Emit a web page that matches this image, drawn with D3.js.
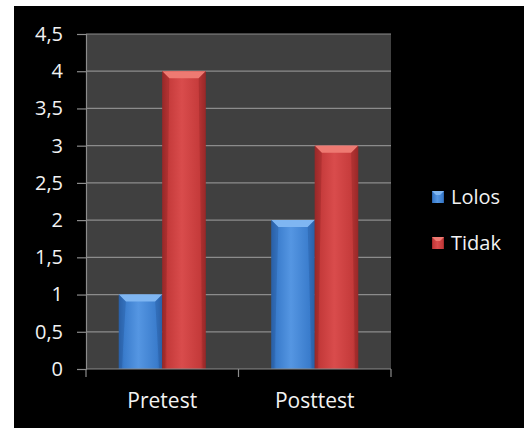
<!DOCTYPE html>
<html>
<head>
<meta charset="utf-8">
<script src="https://cdn.jsdelivr.net/npm/d3@7"></script>
<style>
    html, body { margin: 0; padding: 0; background: #fff; }
    svg { display: block; }
</style>
</head>
<body>
<svg id="chart" width="524" height="428"></svg>
<script>
// chart data
var categories = ["Pretest", "Posttest"];
var seriesNames = ["Lolos", "Tidak"];
var lolosValues = [1, 2];
var tidakValues = [4, 3];
var yTicks = [0, 0.5, 1, 1.5, 2, 2.5, 3, 3.5, 4, 4.5];

var colors = {
    Lolos: { base: "#3a7ccc", light: "#5596e2", dark: "#2a5fa6", top: "#7fb6f2" },
    Tidak: { base: "#c43a3a", light: "#d94c4c", dark: "#982828", top: "#ee7a72" }
};

var svg = d3.select("#chart"),
    plot = { left: 86, right: 391, top: 34, bottom: 369 },
    font = "'Open Sans', Lato, sans-serif";

// outer black frame
svg.append("rect")
    .attr("x", 14).attr("y", 6)
    .attr("width", 510).attr("height", 422)
    .attr("fill", "#000");

var x = d3.scaleBand()
    .domain(categories)
    .range([plot.left, plot.right])
    .paddingInner(0.43)
    .paddingOuter(0.215);

var xSeries = d3.scaleBand()
    .domain(seriesNames)
    .range([0, x.bandwidth()]);

var y = d3.scaleLinear()
    .domain([0, 4.5])
    .range([plot.bottom, plot.top]);

// gradients
var defs = svg.append("defs");
seriesNames.forEach(function (name) {
    var c = colors[name],
        g = defs.append("linearGradient")
            .attr("id", "grad-" + name)
            .attr("x1", "0").attr("x2", "1").attr("y1", "0").attr("y2", "0");
    g.append("stop").attr("offset", "0%").attr("stop-color", c.dark);
    g.append("stop").attr("offset", "12%").attr("stop-color", c.base);
    g.append("stop").attr("offset", "45%").attr("stop-color", c.light);
    g.append("stop").attr("offset", "88%").attr("stop-color", c.base);
    g.append("stop").attr("offset", "100%").attr("stop-color", c.dark);
});

// plot background
svg.append("rect")
    .attr("x", plot.left).attr("y", plot.top)
    .attr("width", plot.right - plot.left)
    .attr("height", plot.bottom - plot.top)
    .attr("fill", "#404040");

// gridlines
svg.append("g")
    .selectAll("line")
    .data(yTicks.slice(1))
    .join("line")
    .attr("x1", plot.left).attr("x2", plot.right)
    .attr("y1", function (d) { return y(d); })
    .attr("y2", function (d) { return y(d); })
    .attr("stroke", "#8c8c8c")
    .attr("stroke-width", 1.2);

// y axis
var yAxis = svg.append("g")
    .attr("transform", "translate(" + plot.left + ",0)")
    .call(d3.axisLeft(y).tickValues(yTicks).tickSize(9).tickPadding(14)
        .tickFormat(function (d) { return String(d).replace(".", ","); }));
yAxis.select(".domain").attr("stroke", "#8c8c8c").attr("stroke-width", 1.2);
yAxis.selectAll(".tick line").attr("stroke", "#8c8c8c").attr("stroke-width", 1.2);
yAxis.selectAll("text")
    .attr("fill", "#f2f2f2")
    .style("font-family", font)
    .style("font-size", "20px");

// bars
var series = [
    { name: "Lolos", values: lolosValues },
    { name: "Tidak", values: tidakValues }
];

series.forEach(function (s) {
    var c = colors[s.name],
        g = svg.append("g");
    categories.forEach(function (cat, i) {
        var bx = x(cat) + xSeries(s.name),
            bw = xSeries.bandwidth(),
            by = y(s.values[i]),
            bh = plot.bottom - by,
            bev = 7;
        g.append("rect")
            .attr("x", bx).attr("y", by)
            .attr("width", bw).attr("height", bh)
            .attr("fill", "url(#grad-" + s.name + ")");
        // top bevel
        g.append("path")
            .attr("d", "M" + bx + "," + by +
                "L" + (bx + bw) + "," + by +
                "L" + (bx + bw - bev) + "," + (by + bev) +
                "L" + (bx + bev) + "," + (by + bev) + "Z")
            .attr("fill", c.top);
        // side bevels
        g.append("path")
            .attr("d", "M" + bx + "," + by +
                "L" + (bx + bev) + "," + (by + bev) +
                "L" + (bx + 3) + "," + (by + bh) +
                "L" + bx + "," + (by + bh) + "Z")
            .attr("fill", c.dark).attr("opacity", 0.5);
        g.append("path")
            .attr("d", "M" + (bx + bw) + "," + by +
                "L" + (bx + bw - bev) + "," + (by + bev) +
                "L" + (bx + bw - 3) + "," + (by + bh) +
                "L" + (bx + bw) + "," + (by + bh) + "Z")
            .attr("fill", c.dark).attr("opacity", 0.5);
    });
});

// x axis
var xAxis = svg.append("g")
    .attr("transform", "translate(0," + plot.bottom + ")")
    .call(d3.axisBottom(x).tickSize(0).tickPadding(24));
xAxis.select(".domain").remove();
svg.append("line")
    .attr("x1", plot.left).attr("x2", plot.right)
    .attr("y1", plot.bottom).attr("y2", plot.bottom)
    .attr("stroke", "#8c8c8c").attr("stroke-width", 1.2);
// category separators
svg.append("g")
    .selectAll("line")
    .data([plot.left, (plot.left + plot.right) / 2, plot.right])
    .join("line")
    .attr("x1", function (d) { return d; })
    .attr("x2", function (d) { return d; })
    .attr("y1", plot.bottom).attr("y2", plot.bottom + 8)
    .attr("stroke", "#8c8c8c").attr("stroke-width", 1.2);
xAxis.selectAll("text")
    .attr("fill", "#f2f2f2")
    .style("font-family", font)
    .style("font-size", "21px");

// legend
var legend = svg.append("g")
    .selectAll("g")
    .data(seriesNames)
    .join("g")
    .attr("transform", function (d, i) { return "translate(432," + (191 + i * 46) + ")"; });
legend.append("rect")
    .attr("width", 12).attr("height", 12)
    .attr("fill", function (d) { return "url(#grad-" + d + ")"; });
legend.append("path")
    .attr("d", "M0,0L12,0L8,4L4,4Z")
    .attr("fill", function (d) { return colors[d].top; });
legend.append("text")
    .attr("x", 19).attr("y", 6)
    .attr("dy", "0.35em")
    .attr("fill", "#f2f2f2")
    .style("font-family", font)
    .style("font-size", "20px")
    .text(function (d) { return d; });
</script>
</body>
</html>
